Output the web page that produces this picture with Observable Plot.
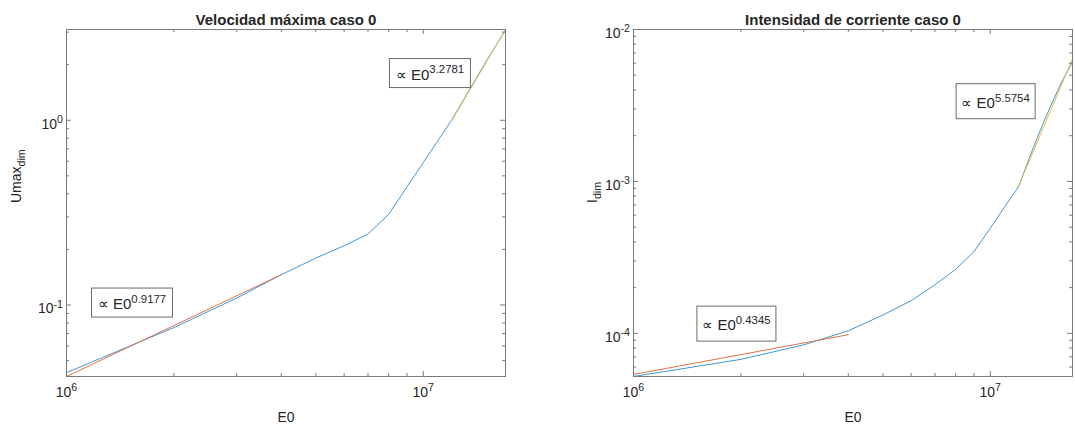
<!DOCTYPE html>
<html>
<head>
<meta charset="utf-8">
<script src="https://cdn.jsdelivr.net/npm/d3@7"></script>
<script src="https://cdn.jsdelivr.net/npm/@observablehq/plot@0.6"></script>
<style>
  html, body { margin: 0; padding: 0; background: #fff; }
  #wrap { display: flex; width: 1075px; height: 426px; }
  #wrap svg { display: block; }
</style>
</head>
<body>
<div id="wrap"></div>
<script>
// ---------- data ----------
const E0 = [1e6, 2e6, 3e6, 4e6, 5e6, 6e6, 7e6, 8e6, 9e6, 1e7, 1.1e7, 1.2e7, 1.3e7, 1.4e7, 1.5e7, 1.6e7, 1.7e7];

// Velocidad máxima (Umax_dim)
const umaxDim = [0.043, 0.0755, 0.109, 0.1459, 0.1795, 0.2093, 0.242, 0.3097, 0.436, 0.59, 0.778, 1.0, 1.30, 1.66, 2.08, 2.55, 3.08];
const umaxFitLowE0 = [1e6, 4e6];
const umaxFitLow = [0.041, 0.1459];
const umaxFitHighE0 = [1.2e7, 1.7e7];
const umaxFitHigh = [0.99, 3.1];
const umaxExponents = ["0.9177", "3.2781"];

// Intensidad de corriente (I_dim)
const iDim = [5.2e-5, 6.74e-5, 8.4e-5, 1.04e-4, 1.32e-4, 1.64e-4, 2.09e-4, 2.64e-4, 3.45e-4, 4.92e-4, 6.87e-4, 9.2e-4, 1.52e-3, 2.35e-3, 3.41e-3, 4.7e-3, 6.1e-3];
const iFitLowE0 = [1e6, 4e6];
const iFitLow = [5.36e-5, 9.8e-5];
const iFitHighE0 = [1.2e7, 1.7e7];
const iFitHigh = [9.3e-4, 6.4e-3];
const iExponents = ["0.4345", "5.5754"];

// ticks
const xTicks = [1e6, 1e7];
const xTickLabels = ["10^{6}", "10^{7}"];
const xMinorTicks = [2e6, 3e6, 4e6, 5e6, 6e6, 7e6, 8e6, 9e6];

const yLeftTicks = [0.1, 1];
const yLeftTickLabels = ["10^{-1}", "10^{0}"];
const yLeftMinorTicks = [0.05, 0.06, 0.07, 0.08, 0.09, 0.2, 0.3, 0.4, 0.5, 0.6, 0.7, 0.8, 0.9, 2, 3];

const yRightTicks = [1e-4, 1e-3, 1e-2];
const yRightTickLabels = ["10^{-4}", "10^{-3}", "10^{-2}"];
const yRightMinorTicks = [6e-5, 7e-5, 8e-5, 9e-5, 2e-4, 3e-4, 4e-4, 5e-4, 6e-4, 7e-4, 8e-4, 9e-4, 2e-3, 3e-3, 4e-3, 5e-3, 6e-3, 7e-3, 8e-3, 9e-3];

// ---------- drawing ----------
const H = 426, MT = 29, MB = 50;
const AX = "#7a7a7a", TXT = "#262626";
const BLUE = "#3f97d8", ORANGE = "#e07246", YELLOW = "#eebd45";
const FONT = "'Liberation Sans', Arial, Helvetica, sans-serif";

function pts(xs, ys) { return xs.map((x, i) => ({x, y: ys[i]})); }

function chart(cfg) {
  const FW = cfg.width - cfg.ml - cfg.mr, FH = H - MT - MB;
  const ln = (xs, ys, color) => Plot.line(pts(xs, ys), {x: "x", y: "y", stroke: color, strokeWidth: 1});
  return Plot.plot({
    width: cfg.width, height: H,
    marginLeft: cfg.ml, marginRight: cfg.mr, marginTop: MT, marginBottom: MB,
    x: {type: "log", domain: [1e6, 1.7e7], axis: null},
    y: {type: "log", domain: cfg.yDomain, axis: null},
    style: {fontFamily: FONT, color: TXT, background: "white", overflow: "visible"},
    marks: [
      ln(E0, cfg.data, BLUE),
      ln(cfg.fitLowX, cfg.fitLowY, ORANGE),
      ln(cfg.fitHighX, cfg.fitHighY, YELLOW),
      Plot.frame({stroke: AX}),
      Plot.tickX(xTicks, {x: d => d, insetTop: FH - 5, stroke: AX}),
      Plot.tickX(xTicks, {x: d => d, insetBottom: FH - 5, stroke: AX}),
      Plot.tickX(xMinorTicks, {x: d => d, insetTop: FH - 3, stroke: AX}),
      Plot.tickX(xMinorTicks, {x: d => d, insetBottom: FH - 3, stroke: AX}),
      Plot.tickY(cfg.yTicks, {y: d => d, insetRight: FW - 5, stroke: AX}),
      Plot.tickY(cfg.yTicks, {y: d => d, insetLeft: FW - 5, stroke: AX}),
      Plot.tickY(cfg.yMinor, {y: d => d, insetRight: FW - 3, stroke: AX}),
      Plot.tickY(cfg.yMinor, {y: d => d, insetLeft: FW - 3, stroke: AX}),
      Plot.text(xTicks, {x: d => d, frameAnchor: "bottom", dy: 20, text: (d, i) => xTickLabels[i], fontSize: 14, fill: TXT}),
      Plot.text(cfg.yTicks, {y: d => d, frameAnchor: "left", dx: -3.5, dy: 4, textAnchor: "end", text: (d, i) => cfg.yTickLabels[i], fontSize: 14, fill: TXT}),
      Plot.text([cfg.title], {text: d => d, frameAnchor: "top", lineAnchor: "bottom", dy: -5, fontWeight: "bold", fontSize: 15, fill: TXT}),
      Plot.text(["E0"], {text: d => d, frameAnchor: "bottom", lineAnchor: "bottom", dy: 45, fontSize: 14, fill: TXT}),
      Plot.text([cfg.ylabel], {text: d => d, frameAnchor: "left", rotate: -90, lineAnchor: "bottom", dx: cfg.ylabelDx, fontSize: 14, fill: TXT}),
      Plot.text(cfg.annots, {x: "x", y: "y", text: "label", fontSize: 15, fill: TXT})
    ]
  });
}

// rich text: ^{...} superscripts, _{...} subscripts
function richText(svg) {
  d3.select(svg).selectAll("text").each(function() {
    const s = this.textContent;
    if (!/[\^_]\{/.test(s)) return;
    const fs = parseFloat(getComputedStyle(this).fontSize) || 14;
    this.textContent = "";
    const parts = s.split(/([\^_]\{[^}]*\})/).filter(p => p.length);
    let shift = 0;
    for (const p of parts) {
      const t = document.createElementNS("http://www.w3.org/2000/svg", "tspan");
      let target = 0, size = null, txt = p;
      if (p.startsWith("^{")) { target = -0.42 * fs; size = 0.76 * fs; txt = p.slice(2, -1); }
      else if (p.startsWith("_{")) { target = 0.3 * fs; size = 0.76 * fs; txt = p.slice(2, -1); }
      const dy = target - shift;
      if (dy) t.setAttribute("dy", dy);
      shift = target;
      if (size) t.setAttribute("font-size", size);
      t.textContent = txt;
      this.appendChild(t);
    }
  });
}

function boxes(svg, boxW, boxH) {
  d3.select(svg).selectAll("text").each(function() {
    if (!this.textContent.includes("∝")) return;
    const bb = this.getBBox();
    const cx = bb.x + bb.width / 2, cy = bb.y + bb.height / 2;
    const r = document.createElementNS("http://www.w3.org/2000/svg", "rect");
    r.setAttribute("x", cx - boxW / 2);
    r.setAttribute("y", cy - boxH / 2);
    r.setAttribute("width", boxW);
    r.setAttribute("height", boxH);
    r.setAttribute("fill", "none");
    r.setAttribute("stroke", "#6a6a6a");
    r.setAttribute("stroke-width", 1);
    const tr = this.getAttribute("transform");
    if (tr) r.setAttribute("transform", tr);
    this.parentNode.insertBefore(r, this);
  });
}

const wrap = document.getElementById("wrap");

const left = chart({
  width: 537, ml: 66, mr: 32,
  yDomain: [0.041, 3.1],
  data: umaxDim,
  fitLowX: umaxFitLowE0, fitLowY: umaxFitLow,
  fitHighX: umaxFitHighE0, fitHighY: umaxFitHigh,
  yTicks: yLeftTicks, yTickLabels: yLeftTickLabels, yMinor: yLeftMinorTicks,
  title: "Velocidad máxima caso 0",
  ylabel: "Umax_{dim}", ylabelDx: -46,
  annots: [
    {x: 1.526e6, y: 0.1007, label: "∝ E0^{" + umaxExponents[0] + "}"},
    {x: 1.044e7, y: 1.76, label: "∝ E0^{" + umaxExponents[1] + "}"}
  ]
});

const right = chart({
  width: 538, ml: 96, mr: 3,
  yDomain: [5.2e-5, 1e-2],
  data: iDim,
  fitLowX: iFitLowE0, fitLowY: iFitLow,
  fitHighX: iFitHighE0, fitHighY: iFitHigh,
  yTicks: yRightTicks, yTickLabels: yRightTickLabels, yMinor: yRightMinorTicks,
  title: "Intensidad de corriente caso 0",
  ylabel: "I_{dim}", ylabelDx: -37,
  annots: [
    {x: 1.943e6, y: 1.127e-4, label: "∝ E0^{" + iExponents[0] + "}"},
    {x: 1.035e7, y: 3.28e-3, label: "∝ E0^{" + iExponents[1] + "}"}
  ]
});

wrap.appendChild(left);
wrap.appendChild(right);
richText(left); richText(right);
boxes(left, 81, 29);
boxes(right, 79, 35);
</script>
</body>
</html>
